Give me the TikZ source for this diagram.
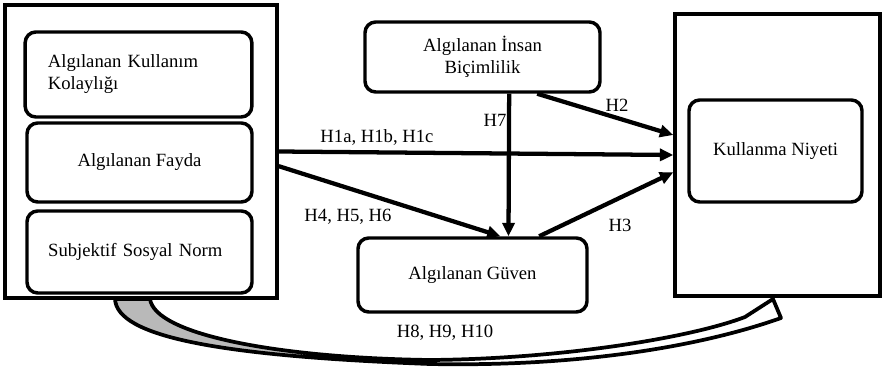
\documentclass[tikz,border=0pt]{standalone}
\usepackage{fontspec}
\setmainfont{Liberation Serif}
\usetikzlibrary{arrows.meta}

\newcommand\yazi{\fontsize{14}{16.5}\selectfont}

\tikzset{
  kutu/.style={draw, line width=2.6pt, rounded corners=8pt, fill=white, font=\yazi, inner sep=0pt},
  dis/.style={draw, line width=2.6pt, fill=white, inner sep=0pt},
  ok/.style={line width=3.2pt, -{Triangle[length=10pt,width=9pt]}},
  etiket/.style={font=\yazi, inner sep=0pt}
}

\begin{document}
\begin{tikzpicture}[x=0.75pt,y=0.75pt,yscale=-1,xscale=1]
\useasboundingbox (0,0) rectangle (885,373);

%Curved band under the boxes
\path[save path=\kavis] (115,299) .. controls (117,337) and (220,356) .. (430,364)
  .. controls (585,367) and (705,345) .. (781,318) -- (773,299) -- (745,317)
  .. controls (690,338) and (560,359) .. (430,360)
  .. controls (280,358) and (155,335) .. (150,299) -- cycle;
\begin{scope}
  \clip (100,290) rectangle (330,373);
  \fill[gray!55, use path=\kavis];
\end{scope}
\draw[line width=2.8pt, line join=round, use path=\kavis];

%Outer boxes
\node[dis, minimum width=204pt, minimum height=219.75pt] (sol) at (141,151.5) {};
\node[dis, minimum width=153.75pt, minimum height=211.5pt] (sag) at (777.5,155) {};

%Left group
\node[kutu, minimum width=170pt, minimum height=63.75pt, inner xsep=17pt, text width=136pt, align=left] (ak) at (138.5,74.5) {Algılanan Kullanım\\Kolaylığı};
\node[kutu, minimum width=168.75pt, minimum height=59.25pt] (af) at (139.5,162.5) {Algılanan Fayda};
\node[kutu, minimum width=168.75pt, minimum height=61.5pt, inner xsep=15.75pt, text width=137pt, align=left] (ssn) at (139.5,252) {Subjektif Sosyal Norm};

%Middle boxes
\node[kutu, minimum width=176.25pt, minimum height=52.5pt, align=center] (aib) at (482.5,57) {Algılanan İnsan\\Biçimlilik};
\node[kutu, minimum width=171.75pt, minimum height=55.5pt] (ag) at (472.5,275) {Algılanan Güven};

%Right box
\node[kutu, minimum width=129.75pt, minimum height=76.5pt] (kn) at (775.5,151) {Kullanma Niyeti};

%Arrows
\draw[ok] (sol.east) -- (sag.west);
\draw[ok] ([yshift=11pt]sol.east) -- ([xshift=21pt]ag.north);
\draw[ok] ([xshift=20pt]aib.south) -- ([xshift=27pt]ag.north);
\draw[ok] ([xshift=41pt]aib.south) -- ([yshift=-15pt]sag.west);
\draw[ok] ([xshift=50pt]ag.north) -- ([yshift=13pt]sag.west);

%Labels
\node[etiket] (h1) at (377,137) {H1a, H1b, H1c};
\node[etiket] (h4) at (348,217) {H4, H5, H6};
\node[etiket] (h7) at (495,120) {H7};
\node[etiket] (h2) at (617,105) {H2};
\node[etiket] (h3) at (620,225) {H3};
\node[etiket] (h8) at (445,333) {H8, H9, H10};

\end{tikzpicture}
\end{document}
